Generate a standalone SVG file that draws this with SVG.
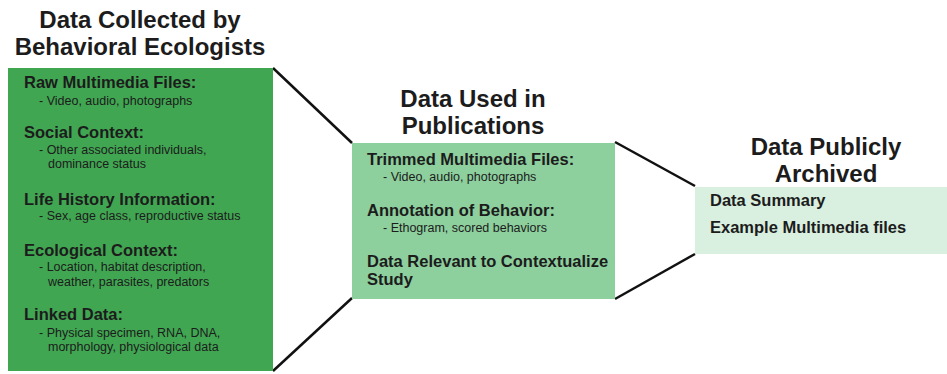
<svg xmlns="http://www.w3.org/2000/svg" width="947" height="374" viewBox="0 0 947 374">
  <style>
    text { font-family: "Liberation Sans", Arial, sans-serif; fill: #1c1c1c; }
    .title { font-size: 24px; font-weight: bold; text-anchor: middle; }
    .head { font-size: 16.5px; font-weight: bold; }
    .sub { font-size: 12.5px; }
    .link { stroke: #111; stroke-width: 2.5; fill: none; }
  </style>
  <rect width="947" height="374" fill="#ffffff"/>

  <!-- connectors between stages -->
  <g id="connectors">
    <line class="link" x1="273" y1="68" x2="352" y2="143"/>
    <line class="link" x1="273" y1="371" x2="352" y2="298"/>
    <line class="link" x1="615" y1="142" x2="695" y2="186"/>
    <line class="link" x1="615" y1="299" x2="695" y2="254"/>
  </g>

  <!-- stage 1 -->
  <g id="collected">
    <text class="title" x="140" y="28">Data Collected by</text>
    <text class="title" x="140" y="55">Behavioral Ecologists</text>
    <rect x="8" y="68" width="265" height="303" fill="#41a652"/>
    <text class="head" x="24" y="88">Raw Multimedia Files:</text>
    <text class="sub" x="39" y="105">- Video, audio, photographs</text>
    <text class="head" x="24" y="138">Social Context:</text>
    <text class="sub" x="39" y="154">- Other associated individuals,</text>
    <text class="sub" x="48" y="168">dominance status</text>
    <text class="head" x="24" y="205">Life History Information:</text>
    <text class="sub" x="39" y="220">- Sex, age class, reproductive status</text>
    <text class="head" x="24" y="256">Ecological Context:</text>
    <text class="sub" x="39" y="271">- Location, habitat description,</text>
    <text class="sub" x="48" y="286">weather, parasites, predators</text>
    <text class="head" x="24" y="320">Linked Data:</text>
    <text class="sub" x="39" y="337">- Physical specimen, RNA, DNA,</text>
    <text class="sub" x="48" y="351">morphology, physiological data</text>
  </g>

  <!-- stage 2 -->
  <g id="publications">
    <text class="title" x="473" y="107">Data Used in</text>
    <text class="title" x="473" y="134">Publications</text>
    <rect x="352" y="143" width="263" height="156" fill="#8dcf9d"/>
    <text class="head" x="367" y="165">Trimmed Multimedia Files:</text>
    <text class="sub" x="383" y="181">- Video, audio, photographs</text>
    <text class="head" x="367" y="216">Annotation of Behavior:</text>
    <text class="sub" x="383" y="232">- Ethogram, scored behaviors</text>
    <text class="head" x="367" y="267">Data Relevant to Contextualize</text>
    <text class="head" x="367" y="285">Study</text>
  </g>

  <!-- stage 3 -->
  <g id="archived">
    <text class="title" x="826" y="155">Data Publicly</text>
    <text class="title" x="826" y="182">Archived</text>
    <rect x="695" y="187" width="252" height="67" fill="#d9efdf"/>
    <text class="head" x="710" y="206">Data Summary</text>
    <text class="head" x="710" y="233">Example Multimedia files</text>
  </g>
</svg>
